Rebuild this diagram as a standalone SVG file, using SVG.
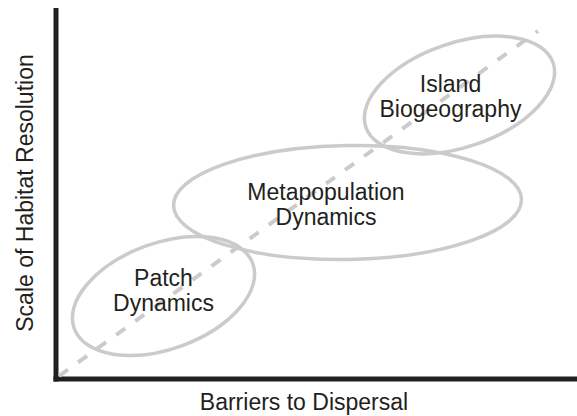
<svg xmlns="http://www.w3.org/2000/svg" width="577" height="416" viewBox="0 0 577 416">
<style>
.axis{stroke:#231f20;stroke-width:5;fill:none}
.oval{fill:none;stroke:#cbcbcb;stroke-width:3.5}
.trend{stroke:#cbcbcb;stroke-width:4;stroke-dasharray:11 12.5;fill:none}
text{font-family:"Liberation Sans",Arial,Helvetica,sans-serif;font-size:23px;fill:#231f20;text-anchor:middle}
</style>
<rect width="577" height="416" fill="#ffffff"/>
<g id="axes">
<line class="axis" x1="56" y1="8" x2="56" y2="381.5"/>
<line class="axis" x1="53.5" y1="379" x2="577" y2="379"/>
<text id="x-label" x="304" y="409.5">Barriers to Dispersal</text>
<text id="y-label" transform="translate(33,193) rotate(-90)">Scale of Habitat Resolution</text>
</g>
<g id="connectors">
<line class="trend" x1="59" y1="376" x2="538" y2="31"/>
</g>
<g id="patch-dynamics">
<ellipse class="oval" cx="163.5" cy="296" rx="95" ry="53" transform="rotate(-20 163.5 296)"/>
<text x="163.5" y="286">Patch</text>
<text x="163.5" y="311">Dynamics</text>
</g>
<g id="metapopulation-dynamics">
<ellipse class="oval" cx="347.5" cy="202.5" rx="174" ry="57" transform="rotate(-1 347.5 202.5)"/>
<text x="326" y="200">Metapopulation</text>
<text x="326" y="225">Dynamics</text>
</g>
<g id="island-biogeography">
<ellipse class="oval" cx="459.5" cy="95" rx="99" ry="52" transform="rotate(-19 459.5 95)"/>
<text x="450.5" y="92">Island</text>
<text x="450.5" y="117">Biogeography</text>
</g>
</svg>
